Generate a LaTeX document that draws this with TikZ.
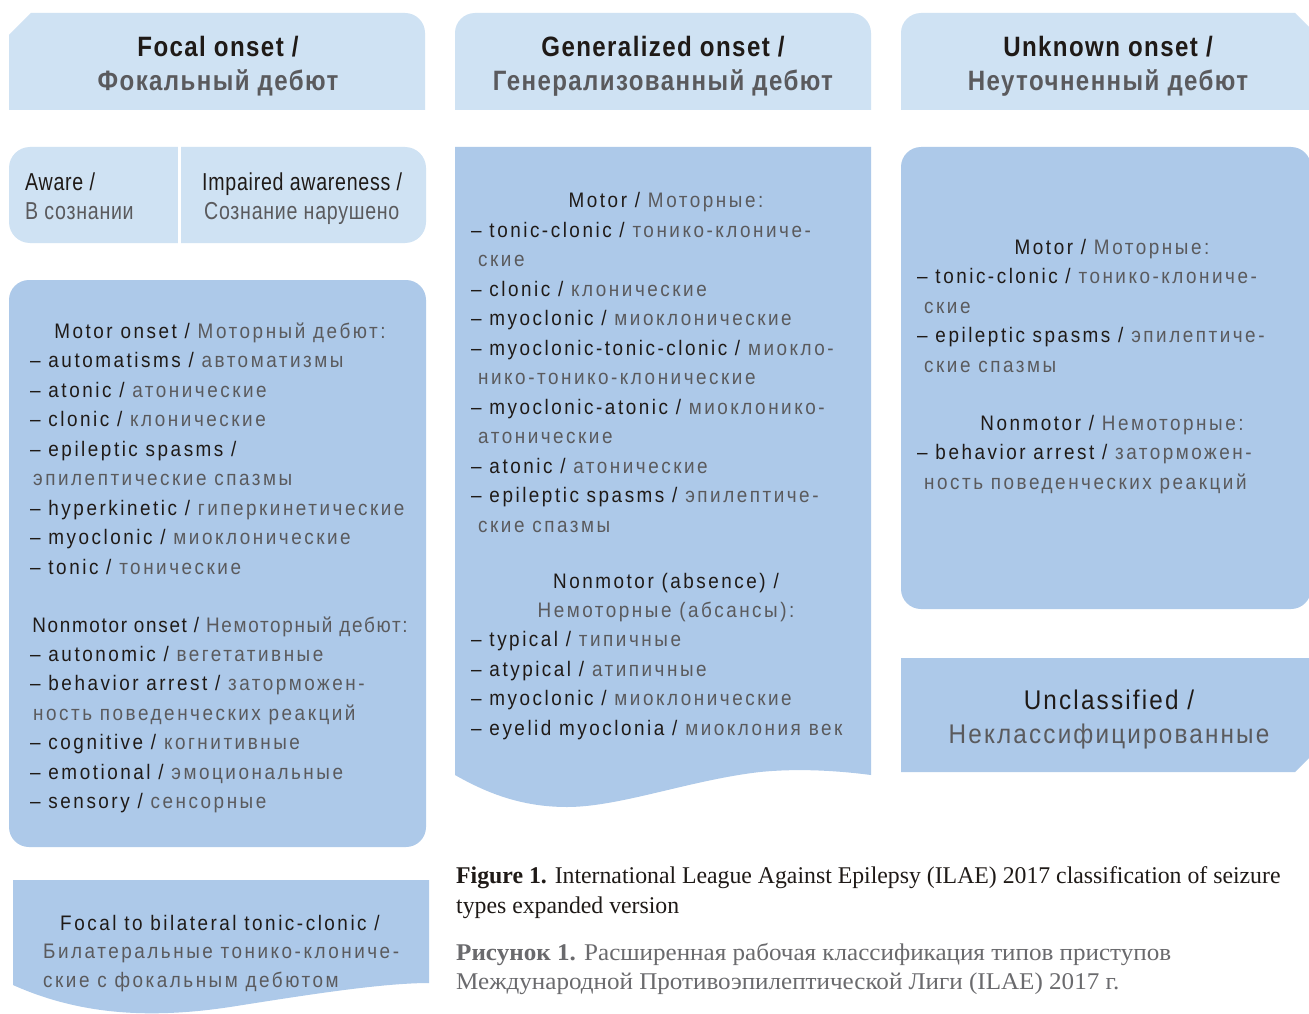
\documentclass[tikz,border=0pt]{standalone}
\usepackage{fontspec}
\newfontfamily\bodyf{Liberation Sans}[FakeStretch=0.9,LetterSpace=12]
\newfontfamily\bodytight{Liberation Sans}[FakeStretch=0.9,LetterSpace=8]
\newfontfamily\awf{Liberation Sans}[FakeStretch=0.8,LetterSpace=3]
\newfontfamily\bigf{Liberation Sans}[FakeStretch=0.9,LetterSpace=8]
\newfontfamily\headf{Liberation Sans}[FakeStretch=0.86,LetterSpace=5]
\newfontfamily\capf{Liberation Serif}[FakeStretch=0.99]
\newfontfamily\capru{Liberation Serif}[FakeStretch=1.045]
\definecolor{hdrfill}{HTML}{CFE2F3}
\definecolor{boxfill}{HTML}{ADC9E9}
\definecolor{txtblack}{HTML}{1F1A17}
\definecolor{txtgray}{HTML}{5A5A5D}
\definecolor{capgray}{HTML}{6A6A6D}
\newcommand\gr[1]{{\color{txtgray}#1}}
\tikzset{
  ln/.style={anchor=base west, inner sep=0pt, text=txtblack, font=\bodyf\fontsize{21}{29.4}\selectfont},
  lc/.style={anchor=base, inner sep=0pt, text=txtblack, font=\bodyf\fontsize{21}{29.4}\selectfont},
  lct/.style={anchor=base, inner sep=0pt, text=txtblack, font=\bodytight\fontsize{21}{29.4}\selectfont},
  awt/.style={anchor=base west, inner sep=0pt, text=txtblack, font=\awf\fontsize{24.5}{29}\selectfont},
  big/.style={anchor=base, inner sep=0pt, text=txtblack, font=\bigf\fontsize{27}{34}\selectfont},
  hd/.style={anchor=base, inner sep=0pt, text=txtblack, font=\headf\bfseries\fontsize{28}{34}\selectfont},
  captext/.style={anchor=base west, inner sep=0pt, text=txtblack, font=\capf\fontsize{24}{31}\selectfont},
  capru/.style={anchor=base west, inner sep=0pt, text=capgray, font=\capru\fontsize{24}{31}\selectfont},
  hdrshape/.style={fill=hdrfill, draw=none},
  boxshape/.style={fill=boxfill, draw=none}
}
\begin{document}
\begin{tikzpicture}[x=1pt,y=-1pt]
\useasboundingbox (0,0) rectangle (1309,1014);
\fill[white] (0,0) rectangle (1309,1014);
% headers
\fill[hdrshape] (9,35) -- (31,13) -- (405,13) arc[start angle=270,end angle=360,radius=20] -- (425,110) -- (9,110) -- cycle;
\fill[hdrshape] (455,110) -- (455,33) arc[start angle=180,end angle=270,radius=20] -- (851,13) arc[start angle=270,end angle=360,radius=20] -- (871,110) -- cycle;
\fill[hdrshape] (901,110) -- (901,33) arc[start angle=180,end angle=270,radius=20] -- (1295,13) -- (1320,38) -- (1320,110) -- cycle;
% aware box
\fill[hdrshape, rounded corners=21pt] (9,147) rectangle (426,243);
\fill[white] (177.5,146) rectangle (180.5,244);
% focal motor box
\fill[boxshape, rounded corners=20pt] (9,280) rectangle (426,847);
% focal to bilateral
\fill[boxshape] (13,880) -- (429,880) -- (429,983) .. controls (380,983) and (300,996) .. (230,1007) .. controls (150,1019) and (80,1015) .. (13,985) -- cycle;
% generalized box
\fill[boxshape] (455,147) -- (871,147) -- (871,775) .. controls (840,771) and (800,768) .. (760,772) .. controls (690,780) and (620,807) .. (567,807) .. controls (520,807) and (485,792) .. (455,775) -- cycle;
% unknown box
\fill[boxshape, rounded corners=20pt] (901,147) rectangle (1311,609);
% unclassified
\fill[boxshape] (901,658) -- (1320,658) -- (1320,747) -- (1295,772) -- (901,772) -- cycle;

% header texts
\node[hd] (h1a) at (218,57) {Focal onset /};
\node[hd] (h1b) at (218,91) {\gr{Фокальный дебют}};
\node[hd] (h2a) at (663,57) {Generalized onset /};
\node[hd] (h2b) at (663,91) {\gr{Генерализованный дебют}};
\node[hd] (h3a) at (1108,57) {Unknown onset /};
\node[hd] (h3b) at (1108,91) {\gr{Неуточненный дебют}};

% aware
\node[awt] (aw1) at (25,190) {Aware /};
\node[awt] (aw2) at (25,219) {\gr{В сознании}};
\node[awt] (ia1) at (202,190) {Impaired awareness /};
\node[awt] (ia2) at (204,219) {\gr{Сознание нарушено}};

% focal list
\node[lc] (f0) at (220,338) {Motor onset / \gr{Моторный дебют:}};
\node[ln] (f1) at (30,367.5) {– automatisms / \gr{автоматизмы}};
\node[ln] (f2) at (30,397) {– atonic / \gr{атонические}};
\node[ln] (f3) at (30,426.5) {– clonic / \gr{клонические}};
\node[ln] (f4) at (30,456) {– epileptic spasms /};
\node[ln] (f5) at (33,485.5) {\gr{эпилептические спазмы}};
\node[ln] (f6) at (30,515) {– hyperkinetic / \gr{гиперкинетические}};
\node[ln] (f7) at (30,544.5) {– myoclonic / \gr{миоклонические}};
\node[ln] (f8) at (30,574) {– tonic / \gr{тонические}};
\node[lct] (f9) at (220,632) {Nonmotor onset / \gr{Немоторный дебют:}};
\node[ln] (f10) at (30,661) {– autonomic / \gr{вегетативные}};
\node[ln] (f11) at (30,690.5) {– behavior arrest / \gr{заторможен-}};
\node[ln] (f12) at (33,720) {\gr{ность поведенческих реакций}};
\node[ln] (f13) at (30,749.5) {– cognitive / \gr{когнитивные}};
\node[ln] (f14) at (30,779) {– emotional / \gr{эмоциональные}};
\node[ln] (f15) at (30,808.5) {– sensory / \gr{сенсорные}};

% focal to bilateral
\node[lc] (fb1) at (220,930) {Focal to bilateral tonic-clonic /};
\node[ln] (fb2) at (43,958.5) {\gr{Билатеральные тонико-клониче-}};
\node[ln] (fb3) at (43,987) {\gr{ские с фокальным дебютом}};

% generalized list
\node[lc] (g0) at (666,207.5) {Motor / \gr{Моторные:}};
\node[ln] (g1) at (471,237) {– tonic-clonic / \gr{тонико-клониче-}};
\node[ln] (g2) at (478,266.5) {\gr{ские}};
\node[ln] (g3) at (471,296) {– clonic / \gr{клонические}};
\node[ln] (g4) at (471,325.5) {– myoclonic / \gr{миоклонические}};
\node[ln] (g5) at (471,355) {– myoclonic-tonic-clonic / \gr{миокло-}};
\node[ln] (g6) at (478,384.5) {\gr{нико-тонико-клонические}};
\node[ln] (g7) at (471,414) {– myoclonic-atonic / \gr{миоклонико-}};
\node[ln] (g8) at (478,443.5) {\gr{атонические}};
\node[ln] (g9) at (471,473) {– atonic / \gr{атонические}};
\node[ln] (g10) at (471,502.5) {– epileptic spasms / \gr{эпилептиче-}};
\node[ln] (g11) at (478,532) {\gr{ские спазмы}};
\node[lc] (g12) at (666,588) {Nonmotor (absence) /};
\node[lc] (g13) at (666,617) {\gr{Немоторные (абсансы):}};
\node[ln] (g14) at (471,646.5) {– typical / \gr{типичные}};
\node[ln] (g15) at (471,676) {– atypical / \gr{атипичные}};
\node[ln] (g16) at (471,705.5) {– myoclonic / \gr{миоклонические}};
\node[ln] (g17) at (471,735) {– eyelid myoclonia / \gr{миоклония век}};

% unknown list
\node[lc] (u0) at (1112,254) {Motor / \gr{Моторные:}};
\node[ln] (u1) at (917,283.5) {– tonic-clonic / \gr{тонико-клониче-}};
\node[ln] (u2) at (924,313) {\gr{ские}};
\node[ln] (u3) at (917,342.5) {– epileptic spasms / \gr{эпилептиче-}};
\node[ln] (u4) at (924,372) {\gr{ские спазмы}};
\node[lc] (u5) at (1112,430) {Nonmotor / \gr{Немоторные:}};
\node[ln] (u6) at (917,459.5) {– behavior arrest / \gr{заторможен-}};
\node[ln] (u7) at (924,489) {\gr{ность поведенческих реакций}};

% unclassified
\node[big] (uc1) at (1109,709) {Unclassified /};
\node[big] (uc2) at (1109,743) {\gr{Неклассифицированные}};

% caption
\node[captext] (c1) at (456,883) {\textbf{Figure 1.} International League Against Epilepsy (ILAE) 2017 classification of seizure};
\node[captext] (c2) at (456,913) {types expanded version};
\node[capru] (c3) at (456,960) {\textbf{Рисунок 1.} Расширенная рабочая классификация типов приступов};
\node[capru] (c4) at (456,989) {Международной Противоэпилептической Лиги (ILAE) 2017 г.};
\end{tikzpicture}
\end{document}
